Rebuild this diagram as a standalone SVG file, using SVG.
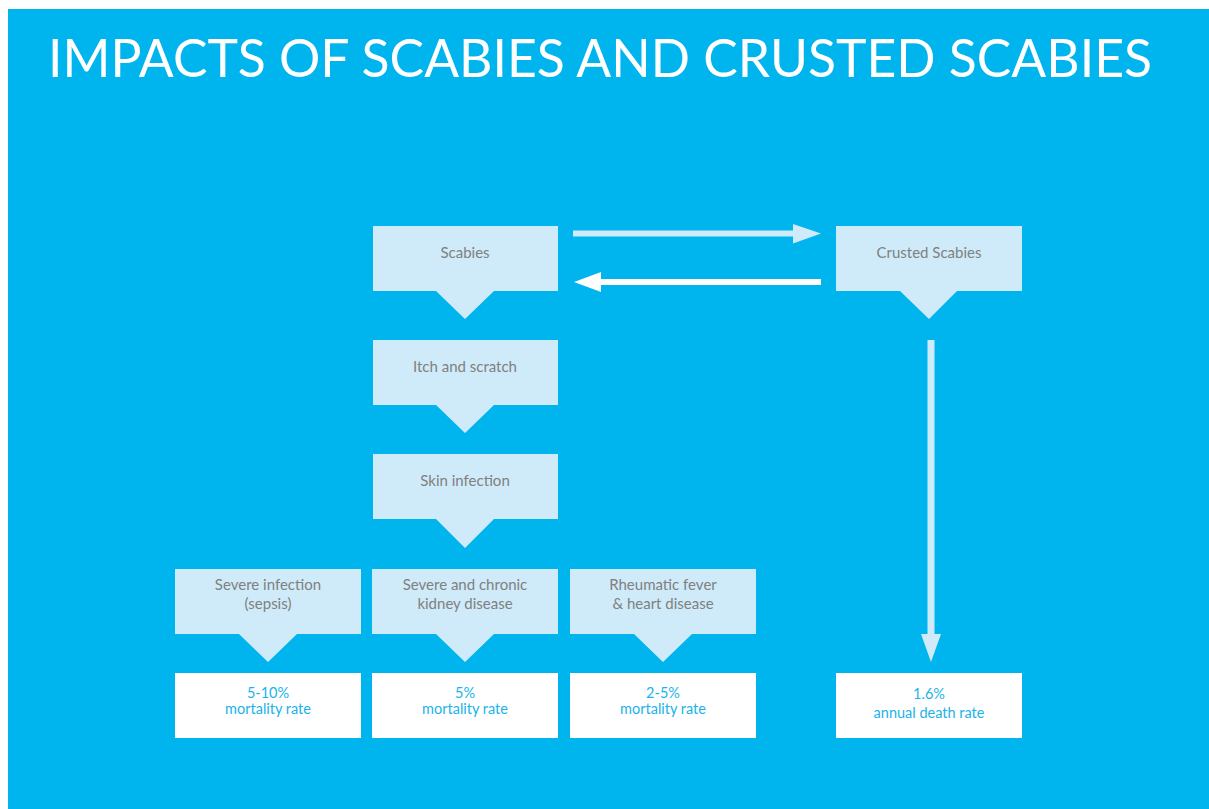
<svg xmlns="http://www.w3.org/2000/svg" width="1209" height="809" viewBox="0 0 1209 809">
<style>
.node{fill:#CFEBF9}
.lbl{font-family:Lato,"Open Sans","Liberation Sans",sans-serif;font-size:15px;fill:#808080;text-anchor:middle}
.res{fill:#FFFFFF}
.rlbl{font-family:Lato,"Open Sans","Liberation Sans",sans-serif;font-size:14.5px;fill:#1AB3EA;text-anchor:middle}
.title{font-family:Lato,"Open Sans","Liberation Sans",sans-serif;font-size:52px;fill:#FFFFFF}
</style>
<rect x="0" y="0" width="1209" height="809" fill="#FFFFFF"/>
<rect x="8" y="9" width="1201" height="800" fill="#00B5EE"/>
<text class="title" x="48" y="77" textLength="1104" lengthAdjust="spacingAndGlyphs">IMPACTS OF SCABIES AND CRUSTED SCABIES</text>

<g id="connectors">
  <polygon fill="#CFEBF9" points="573,230.5 793,230.5 793,224 821,233.5 793,243.5 793,236.5 573,236.5"/>
  <polygon fill="#FFFFFF" points="821,279 601,279 601,272 574,282 601,292 601,285 821,285"/>
  <polygon fill="#CFEBF9" points="927.5,340 934.5,340 934.5,634 941,634 931,662 921,634 927.5,634"/>
</g>

<g id="scabies">
  <polygon class="node" points="373,226 558,226 558,291 494,291 465,319 436,291 373,291"/>
  <text class="lbl" x="465" y="258">Scabies</text>
</g>
<g id="crusted">
  <polygon class="node" points="836,226 1022,226 1022,291 957,291 929,319 900,291 836,291"/>
  <text class="lbl" x="929" y="258">Crusted Scabies</text>
</g>
<g id="itch">
  <polygon class="node" points="373,340 558,340 558,405 494,405 465,433 436,405 373,405"/>
  <text class="lbl" x="465" y="372">Itch and scratch</text>
</g>
<g id="skin">
  <polygon class="node" points="373,454 558,454 558,519 494,519 465,548 436,519 373,519"/>
  <text class="lbl" x="465" y="486">Skin infection</text>
</g>
<g id="sepsis">
  <polygon class="node" points="175,569 361,569 361,634 297,634 268,662 239,634 175,634"/>
  <text class="lbl" x="268" y="590">Severe infection</text>
  <text class="lbl" x="268" y="609">(sepsis)</text>
</g>
<g id="kidney">
  <polygon class="node" points="372,569 558,569 558,634 494,634 465,662 436,634 372,634"/>
  <text class="lbl" x="465" y="590">Severe and chronic</text>
  <text class="lbl" x="465" y="609">kidney disease</text>
</g>
<g id="rheumatic">
  <polygon class="node" points="570,569 756,569 756,634 692,634 663,662 634,634 570,634"/>
  <text class="lbl" x="663" y="590">Rheumatic fever</text>
  <text class="lbl" x="663" y="609">&amp; heart disease</text>
</g>
<g id="rate-sepsis">
  <rect class="res" x="175" y="673" width="186" height="65"/>
  <text class="rlbl" x="268" y="698">5-10%</text>
  <text class="rlbl" x="268" y="714">mortality rate</text>
</g>
<g id="rate-kidney">
  <rect class="res" x="372" y="673" width="186" height="65"/>
  <text class="rlbl" x="465" y="698">5%</text>
  <text class="rlbl" x="465" y="714">mortality rate</text>
</g>
<g id="rate-rheumatic">
  <rect class="res" x="570" y="673" width="186" height="65"/>
  <text class="rlbl" x="663" y="698">2-5%</text>
  <text class="rlbl" x="663" y="714">mortality rate</text>
</g>
<g id="rate-crusted">
  <rect class="res" x="836" y="673" width="186" height="65"/>
  <text class="rlbl" x="929" y="699">1.6%</text>
  <text class="rlbl" x="929" y="718">annual death rate</text>
</g>
</svg>
